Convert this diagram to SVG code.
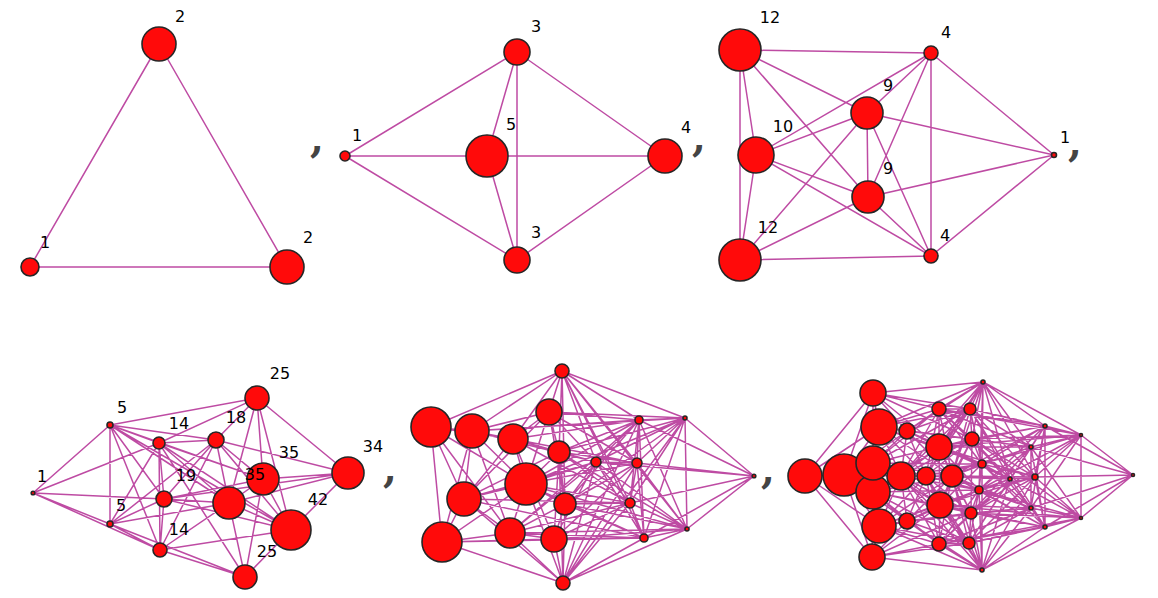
<svg xmlns="http://www.w3.org/2000/svg" width="1158" height="598" viewBox="0 0 1158 598">
<style>
.e{fill:none;stroke:#b32c93;stroke-width:1.5;stroke-opacity:0.85}
.n{fill:#ff0a0a;stroke:#262626;stroke-width:1.6}
.l{font-family:"DejaVu Sans",sans-serif;font-size:16px;fill:#000;text-anchor:middle}
.c{font-family:"DejaVu Serif",serif;font-size:40px;font-weight:bold;fill:#444;text-anchor:middle}
</style>
<rect width="1158" height="598" fill="#fff"/>
<g id="connectors">
<path id="g1-edges" class="e" d="M159 44L30 267M159 44L287 267M30 267L287 267"/>
<path id="g2-edges" class="e" d="M345 156L517 52M345 156L517 260M345 156L487 156M487 156L665 156M517 52L487 156M517 52L517 260M517 52L665 156M517 260L487 156M517 260L665 156"/>
<path id="g3-edges" class="e" d="M740 50L931 53M740 50L756 155M740 50L740 260M740 50L867 113M740 50L868 197M740 260L931 256M740 260L756 155M740 260L868 197M740 260L867 113M756 155L931 53M756 155L867 113M756 155L868 197M756 155L931 256M867 113L868 197M867 113L931 53M867 113L1054 155M867 113L931 256M868 197L931 53M868 197L1054 155M868 197L931 256M931 53L931 256M931 53L1054 155M931 256L1054 155"/>
<path id="g4-edges" class="e" d="M33 493L110 425M33 493L159 443M33 493L164 499M33 493L110 524M33 493L160 550M110 425L257 398M110 425L159 443M110 425L216 440M110 425L110 524M110 425L164 499M110 425L160 550M110 425L229 503M110 425L263 479M110 425L291 530M159 443L257 398M159 443L216 440M159 443L263 479M159 443L164 499M159 443L160 550M159 443L229 503M159 443L291 530M159 443L110 524M159 443L245 577M216 440L257 398M216 440L348 473M216 440L164 499M216 440L110 524M216 440L160 550M216 440L229 503M216 440L291 530M216 440L263 479M257 398L348 473M257 398L229 503M257 398L263 479M257 398L291 530M164 499L229 503M164 499L263 479M164 499L348 473M164 499L291 530M164 499L110 524M164 499L160 550M229 503L263 479M229 503L348 473M229 503L291 530M229 503L245 577M229 503L160 550M263 479L348 473M263 479L291 530M263 479L245 577M348 473L291 530M291 530L245 577M291 530L160 550M160 550L245 577M110 524L160 550M110 524L229 503M110 524L245 577"/>
<path id="g5-edges" class="e" d="M562 371L431 427M562 371L472 431M562 371L513 439M562 371L549 412M562 371L559 452M562 371L526 484M562 371L565 504M562 371L596 462M562 371L639 420M562 371L637 463M562 371L630 503M562 371L644 538M562 371L685 418M562 371L687 529M563 583L442 542M563 583L510 533M563 583L554 539M563 583L464 499M563 583L526 484M563 583L565 504M563 583L559 452M563 583L596 462M563 583L639 420M563 583L637 463M563 583L630 503M563 583L644 538M563 583L687 529M563 583L685 418M754 476L685 418M754 476L687 529M754 476L639 420M754 476L637 463M754 476L630 503M754 476L644 538M754 476L596 462M685 418L687 529M685 418L639 420M685 418L637 463M685 418L630 503M685 418L644 538M685 418L596 462M685 418L549 412M685 418L472 431M685 418L559 452M685 418L526 484M685 418L565 504M687 529L639 420M687 529L637 463M687 529L630 503M687 529L644 538M687 529L596 462M687 529L554 539M687 529L510 533M687 529L565 504M687 529L559 452M687 529L526 484M639 420L637 463M639 420L630 503M639 420L644 538M639 420L596 462M639 420L549 412M639 420L513 439M639 420L472 431M639 420L559 452M639 420L526 484M639 420L565 504M639 420L510 533M637 463L630 503M637 463L644 538M637 463L596 462M637 463L549 412M637 463L559 452M637 463L513 439M637 463L526 484M637 463L565 504M637 463L554 539M630 503L644 538M630 503L596 462M630 503L559 452M630 503L526 484M630 503L565 504M630 503L510 533M630 503L554 539M630 503L464 499M630 503L513 439M644 538L596 462M644 538L554 539M644 538L510 533M644 538L442 542M644 538L565 504M644 538L464 499M644 538L526 484M596 462L549 412M596 462L559 452M596 462L513 439M596 462L526 484M596 462L565 504M596 462L554 539M596 462L510 533M596 462L464 499M596 462L472 431M431 427L472 431M431 427L464 499M431 427L513 439M431 427L526 484M431 427L442 542M472 431L513 439M472 431L464 499M472 431L526 484M472 431L442 542M513 439L549 412M513 439L526 484M513 439L559 452M513 439L464 499M549 412L559 452M549 412L526 484M559 452L526 484M559 452L565 504M526 484L464 499M526 484L510 533M526 484L565 504M526 484L442 542M464 499L442 542M464 499L510 533M442 542L510 533M510 533L554 539M554 539L565 504M510 533L565 504M549 412L565 504M549 412L510 533M559 452L554 539M464 499L559 452M513 439L554 539M472 431L510 533M549 412L464 499M431 427L510 533M472 431L549 412M442 542L554 539"/>
<path id="g6-edges" class="e" d="M805 476L873 393M805 476L872 557M805 476L879 427M805 476L879 526M805 476L844 475M873 393L983 382M872 557L982 570M983 382L1045 426M983 382L1081 435M982 570L1045 527M982 570L1081 518M1081 435L1133 475M1081 518L1133 475M1081 435L1081 518M1045 426L1045 527M1045 426L1081 435M1045 527L1081 518M1133 475L1031 447M1133 475L1035 477M1133 475L1031 508M1133 475L1045 426M1133 475L1045 527
M983 382L879 427M983 382L907 431M983 382L939 409M983 382L939 447M983 382L970 409M983 382L972 439M983 382L982 464M983 382L926 476M983 382L952 476M983 382L1031 447M983 382L1035 477M983 382L901 476M983 382L1010 479M983 382L979 490
M982 570L879 526M982 570L907 521M982 570L939 544M982 570L940 505M982 570L969 543M982 570L971 513M982 570L979 490M982 570L926 476M982 570L952 476M982 570L1031 508M982 570L1035 477M982 570L901 476M982 570L1010 479M982 570L982 464
M1081 435L1031 447M1081 435L1035 477M1081 435L1031 508M1081 435L970 409M1081 435L972 439M1081 435L982 464M1081 435L979 490M1081 435L971 513M1081 435L939 447M1081 435L939 409
M1081 518L1031 447M1081 518L1035 477M1081 518L1031 508M1081 518L969 543M1081 518L971 513M1081 518L979 490M1081 518L982 464M1081 518L972 439M1081 518L940 505M1081 518L939 544
M1045 426L1031 447M1045 426L1035 477M1045 426L1031 508M1045 426L970 409M1045 426L972 439M1045 426L939 409M1045 426L939 447M1045 426L982 464M1045 426L979 490M1045 426L952 476M1045 426L969 543
M1045 527L1031 447M1045 527L1035 477M1045 527L1031 508M1045 527L969 543M1045 527L971 513M1045 527L939 544M1045 527L940 505M1045 527L979 490M1045 527L982 464M1045 527L952 476M1045 527L970 409
M1031 447L970 409M1031 447L972 439M1031 447L982 464M1031 447L979 490M1031 447L939 447M1031 447L939 409M1031 447L952 476M1031 447L907 431M1031 447L1031 508M1031 447L1010 479M1031 447L971 513
M1031 508L969 543M1031 508L971 513M1031 508L979 490M1031 508L982 464M1031 508L940 505M1031 508L939 544M1031 508L952 476M1031 508L907 521M1031 508L1010 479M1031 508L972 439
M1035 477L970 409M1035 477L972 439M1035 477L982 464M1035 477L979 490M1035 477L971 513M1035 477L969 543M1035 477L1010 479M1035 477L952 476M1035 477L926 476M1035 477L939 447M1035 477L940 505
M1010 479L970 409M1010 479L972 439M1010 479L982 464M1010 479L979 490M1010 479L971 513M1010 479L969 543M1010 479L952 476M1010 479L939 447M1010 479L940 505M1010 479L939 409M1010 479L939 544M1010 479L926 476
M970 409L873 393M970 409L879 427M970 409L907 431M970 409L939 409M970 409L939 447M970 409L972 439M970 409L982 464M970 409L926 476M970 409L901 476M970 409L952 476M970 409L873 463
M969 543L872 557M969 543L879 526M969 543L907 521M969 543L939 544M969 543L940 505M969 543L971 513M969 543L979 490M969 543L926 476M969 543L901 476M969 543L952 476M969 543L873 492
M972 439L879 427M972 439L907 431M972 439L939 409M972 439L939 447M972 439L982 464M972 439L926 476M972 439L952 476M972 439L901 476M972 439L873 463M972 439L873 393M972 439L940 505M972 439L971 513
M971 513L879 526M971 513L907 521M971 513L939 544M971 513L940 505M971 513L979 490M971 513L926 476M971 513L952 476M971 513L901 476M971 513L873 492M971 513L872 557M971 513L939 447
M982 464L939 447M982 464L926 476M982 464L952 476M982 464L901 476M982 464L907 431M982 464L873 463M982 464L979 490M982 464L939 409M982 464L940 505M982 464L879 427
M979 490L940 505M979 490L926 476M979 490L952 476M979 490L901 476M979 490L907 521M979 490L873 492M979 490L939 544M979 490L939 447M979 490L879 526
M939 409L873 393M939 409L879 427M939 409L907 431M939 409L939 447M939 409L901 476M939 409L873 463M939 409L926 476M939 409L952 476
M939 544L872 557M939 544L879 526M939 544L907 521M939 544L940 505M939 544L901 476M939 544L873 492M939 544L926 476M939 544L952 476
M939 447L879 427M939 447L907 431M939 447L873 463M939 447L901 476M939 447L926 476M939 447L952 476M939 447L940 505M939 447L873 393M939 447L873 492
M940 505L879 526M940 505L907 521M940 505L873 492M940 505L901 476M940 505L926 476M940 505L952 476M940 505L872 557M940 505L873 463
M926 476L873 463M926 476L873 492M926 476L901 476M926 476L907 431M926 476L907 521M926 476L879 427M926 476L879 526
M952 476L901 476M952 476L907 431M952 476L907 521M952 476L879 427M952 476L879 526M952 476L873 463M952 476L873 492
M907 431L873 393M907 431L879 427M907 431L873 463M907 431L901 476M907 431L844 475
M907 521L872 557M907 521L879 526M907 521L873 492M907 521L901 476M907 521L844 475
M901 476L879 427M901 476L873 463M901 476L873 492M901 476L879 526M901 476L844 475
M873 393L879 427M873 393L844 475M873 393L873 463M872 557L879 526M872 557L844 475M872 557L873 492
M844 475L879 427M844 475L873 463M844 475L873 492M844 475L879 526"/>
</g>
<g id="separators">
<text class="c" x="317" y="152">,</text>
<text class="c" x="699" y="151">,</text>
<text class="c" x="1075" y="156">,</text>
<text class="c" x="390" y="482">,</text>
<text class="c" x="768" y="483">,</text>
</g>
<g id="graph1">
<g id="g1-top"><circle class="n" cx="159" cy="44" r="17"/><text class="l" x="180" y="22">2</text></g>
<g id="g1-left"><circle class="n" cx="30" cy="267" r="9"/><text class="l" x="45" y="248">1</text></g>
<g id="g1-right"><circle class="n" cx="287" cy="267" r="17"/><text class="l" x="308" y="243">2</text></g>
</g>
<g id="graph2">
<g id="g2-n1"><circle class="n" cx="345" cy="156" r="5"/><text class="l" x="357" y="141">1</text></g>
<g id="g2-n5"><circle class="n" cx="487" cy="156" r="21"/><text class="l" x="511" y="130">5</text></g>
<g id="g2-n3top"><circle class="n" cx="517" cy="52" r="13"/><text class="l" x="536" y="32">3</text></g>
<g id="g2-n3bot"><circle class="n" cx="517" cy="260" r="13"/><text class="l" x="536" y="238">3</text></g>
<g id="g2-n4"><circle class="n" cx="665" cy="156" r="17"/><text class="l" x="686" y="133">4</text></g>
</g>
<g id="graph3">
<g id="g3-a"><circle class="n" cx="740" cy="50" r="21"/><text class="l" x="770" y="23">12</text></g>
<g id="g3-b"><circle class="n" cx="931" cy="53" r="7"/><text class="l" x="946" y="38">4</text></g>
<g id="g3-c"><circle class="n" cx="867" cy="113" r="16"/><text class="l" x="888" y="91">9</text></g>
<g id="g3-d"><circle class="n" cx="756" cy="155" r="18"/><text class="l" x="783" y="132">10</text></g>
<g id="g3-e"><circle class="n" cx="868" cy="197" r="16"/><text class="l" x="888" y="174">9</text></g>
<g id="g3-f"><circle class="n" cx="740" cy="260" r="21"/><text class="l" x="768" y="233">12</text></g>
<g id="g3-g"><circle class="n" cx="931" cy="256" r="7"/><text class="l" x="945" y="241">4</text></g>
<g id="g3-h"><circle class="n" cx="1054" cy="155" r="2.5"/><text class="l" x="1065" y="143">1</text></g>
</g>
<g id="graph4">
<g id="g4-1"><circle class="n" cx="33" cy="493" r="1.8"/><text class="l" x="42" y="482">1</text></g>
<g id="g4-5t"><circle class="n" cx="110" cy="425" r="3"/><text class="l" x="122" y="413">5</text></g>
<g id="g4-5b"><circle class="n" cx="110" cy="524" r="3"/><text class="l" x="121" y="511">5</text></g>
<g id="g4-14t"><circle class="n" cx="159" cy="443" r="6"/><text class="l" x="179" y="429">14</text></g>
<g id="g4-14b"><circle class="n" cx="160" cy="550" r="7"/><text class="l" x="179" y="535">14</text></g>
<g id="g4-18"><circle class="n" cx="216" cy="440" r="8"/><text class="l" x="236" y="423">18</text></g>
<g id="g4-25t"><circle class="n" cx="257" cy="398" r="12"/><text class="l" x="280" y="379">25</text></g>
<g id="g4-19"><circle class="n" cx="164" cy="499" r="8"/><text class="l" x="186" y="481">19</text></g>
<g id="g4-34"><circle class="n" cx="348" cy="473" r="16"/><text class="l" x="373" y="452">34</text></g>
<g id="g4-35b"><circle class="n" cx="263" cy="479" r="16"/><text class="l" x="289" y="458">35</text></g>
<g id="g4-35a"><circle class="n" cx="229" cy="503" r="16"/><text class="l" x="255" y="480">35</text></g>
<g id="g4-42"><circle class="n" cx="291" cy="530" r="20"/><text class="l" x="318" y="505">42</text></g>
<g id="g4-25b"><circle class="n" cx="245" cy="577" r="12"/><text class="l" x="267" y="557">25</text></g>
</g>
<g id="graph5">
<g id="g5-p0"><circle class="n" cx="562" cy="371" r="7"/></g>
<g id="g5-p1"><circle class="n" cx="431" cy="427" r="20"/></g>
<g id="g5-p2"><circle class="n" cx="472" cy="431" r="17"/></g>
<g id="g5-p3"><circle class="n" cx="513" cy="439" r="15"/></g>
<g id="g5-p4"><circle class="n" cx="549" cy="412" r="13"/></g>
<g id="g5-p5"><circle class="n" cx="559" cy="452" r="11"/></g>
<g id="g5-p6"><circle class="n" cx="526" cy="484" r="21"/></g>
<g id="g5-p7"><circle class="n" cx="464" cy="499" r="17"/></g>
<g id="g5-p8"><circle class="n" cx="442" cy="542" r="20"/></g>
<g id="g5-p9"><circle class="n" cx="510" cy="533" r="15"/></g>
<g id="g5-p10"><circle class="n" cx="554" cy="539" r="13"/></g>
<g id="g5-p11"><circle class="n" cx="565" cy="504" r="11"/></g>
<g id="g5-p12"><circle class="n" cx="563" cy="583" r="7"/></g>
<g id="g5-p13"><circle class="n" cx="596" cy="462" r="5"/></g>
<g id="g5-p14"><circle class="n" cx="639" cy="420" r="4"/></g>
<g id="g5-p15"><circle class="n" cx="637" cy="463" r="5"/></g>
<g id="g5-p16"><circle class="n" cx="630" cy="503" r="5"/></g>
<g id="g5-p17"><circle class="n" cx="644" cy="538" r="4"/></g>
<g id="g5-p18"><circle class="n" cx="685" cy="418" r="2"/></g>
<g id="g5-p19"><circle class="n" cx="687" cy="529" r="2"/></g>
<g id="g5-p20"><circle class="n" cx="754" cy="476" r="1.8"/></g>
</g>
<g id="graph6">
<g id="g6-q0"><circle class="n" cx="805" cy="476" r="17"/></g>
<g id="g6-q1"><circle class="n" cx="844" cy="475" r="21"/></g>
<g id="g6-q2"><circle class="n" cx="873" cy="393" r="13"/></g>
<g id="g6-q3"><circle class="n" cx="879" cy="427" r="18"/></g>
<g id="g6-q7"><circle class="n" cx="872" cy="557" r="13"/></g>
<g id="g6-q6"><circle class="n" cx="879" cy="526" r="17"/></g>
<g id="g6-q5"><circle class="n" cx="873" cy="492" r="17"/></g>
<g id="g6-q4"><circle class="n" cx="873" cy="463" r="17"/></g>
<g id="g6-q9"><circle class="n" cx="901" cy="476" r="14"/></g>
<g id="g6-q8"><circle class="n" cx="907" cy="431" r="8"/></g>
<g id="g6-q10"><circle class="n" cx="907" cy="521" r="8"/></g>
<g id="g6-q11"><circle class="n" cx="939" cy="409" r="7"/></g>
<g id="g6-q12"><circle class="n" cx="939" cy="447" r="13"/></g>
<g id="g6-q13"><circle class="n" cx="926" cy="476" r="9"/></g>
<g id="g6-q14"><circle class="n" cx="952" cy="476" r="11"/></g>
<g id="g6-q15"><circle class="n" cx="940" cy="505" r="13"/></g>
<g id="g6-q16"><circle class="n" cx="939" cy="544" r="7"/></g>
<g id="g6-q17"><circle class="n" cx="970" cy="409" r="6"/></g>
<g id="g6-q18"><circle class="n" cx="972" cy="439" r="7"/></g>
<g id="g6-q19"><circle class="n" cx="982" cy="464" r="4"/></g>
<g id="g6-q20"><circle class="n" cx="979" cy="490" r="4"/></g>
<g id="g6-q21"><circle class="n" cx="971" cy="513" r="6"/></g>
<g id="g6-q22"><circle class="n" cx="969" cy="543" r="6"/></g>
<g id="g6-q23"><circle class="n" cx="983" cy="382" r="2"/></g>
<g id="g6-q24"><circle class="n" cx="982" cy="570" r="2"/></g>
<g id="g6-q25"><circle class="n" cx="1010" cy="479" r="2"/></g>
<g id="g6-q26"><circle class="n" cx="1031" cy="447" r="2"/></g>
<g id="g6-q27"><circle class="n" cx="1035" cy="477" r="3"/></g>
<g id="g6-q28"><circle class="n" cx="1031" cy="508" r="2"/></g>
<g id="g6-q29"><circle class="n" cx="1045" cy="426" r="2"/></g>
<g id="g6-q30"><circle class="n" cx="1045" cy="527" r="2"/></g>
<g id="g6-q31"><circle class="n" cx="1081" cy="435" r="1.5"/></g>
<g id="g6-q32"><circle class="n" cx="1081" cy="518" r="1.5"/></g>
<g id="g6-q33"><circle class="n" cx="1133" cy="475" r="1.5"/></g>
</g>
</svg>
